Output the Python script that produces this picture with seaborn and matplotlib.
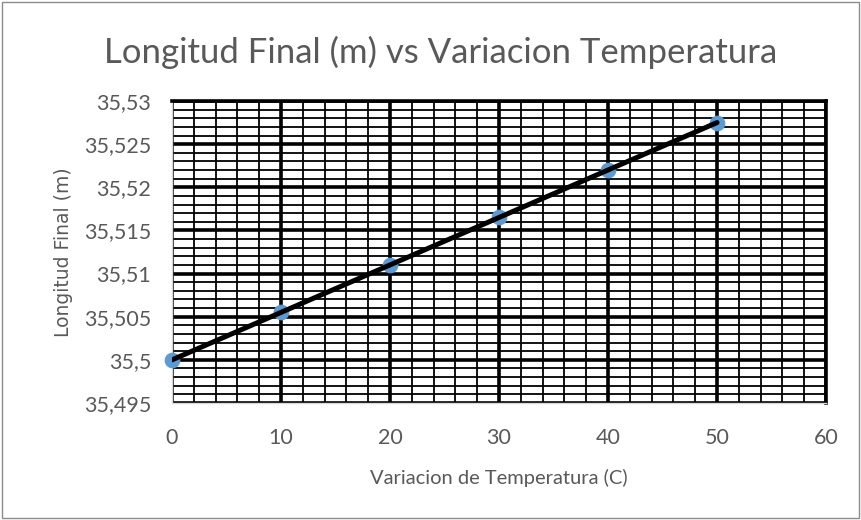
import seaborn as sns
import pandas as pd
import matplotlib.pyplot as plt
from matplotlib.ticker import MultipleLocator, FuncFormatter

# datos
temp = [0, 10, 20, 30, 40, 50]
longitud = [35.5, 35.5055, 35.511, 35.5165, 35.522, 35.5275]

df = pd.DataFrame({"temp": temp, "longitud": longitud})

sns.set_style("white")
plt.rcParams['font.family'] = ['Lato', 'DejaVu Sans']
gris = "#595959"

fig = plt.figure(figsize=(8.61, 5.2), dpi=100)
ax = fig.add_axes([0.1998, 0.225, 0.7596, 0.5808])

ax.set_xlim(0, 60)
ax.set_ylim(35.495, 35.53)
ax.xaxis.set_major_locator(MultipleLocator(10))
ax.xaxis.set_minor_locator(MultipleLocator(2))
ax.yaxis.set_major_locator(MultipleLocator(0.005))
ax.yaxis.set_minor_locator(MultipleLocator(0.001))
ax.grid(which="major", color="black", lw=2.6)
ax.grid(which="minor", color="black", lw=1.3)
ax.set_axisbelow(True)

sns.scatterplot(data=df, x="temp", y="longitud", ax=ax, s=110,
                color="#5B9BD5", edgecolor="#5B9BD5", zorder=3, clip_on=False)
sns.regplot(data=df, x="temp", y="longitud", ax=ax, scatter=False, ci=None,
            line_kws={"color": "black", "lw": 3.6, "zorder": 4})

fmt = lambda v, p: ("%g" % round(v, 4)).replace(".", ",")
ax.yaxis.set_major_formatter(FuncFormatter(fmt))
ax.tick_params(which="both", length=0, labelsize=15.5, labelcolor=gris)
ax.tick_params(axis="x", pad=18)
ax.tick_params(axis="y", pad=15)

for s in ["top", "right"]:
    ax.spines[s].set_color("black")
    ax.spines[s].set_linewidth(2.6)
for s in ["bottom", "left"]:
    ax.spines[s].set_color("#d9d9d9")
    ax.spines[s].set_linewidth(1)

ax.set_xlabel("Variacion de Temperatura (C)", fontsize=14.5, color=gris, labelpad=15)
ax.set_ylabel("Longitud Final (m)", fontsize=13.5, color=gris, labelpad=8,
              family="DejaVu Sans")
fig.text(0.512, 0.9, "Longitud Final (m) vs Variacion Temperatura",
         ha="center", va="center", fontsize=25, color=gris)

# borde del grafico
fig.patches.append(plt.Rectangle((0.002, 0.003), 0.996, 0.994, transform=fig.transFigure,
                                 fill=False, ec="#8c8c8c", lw=1))

plt.savefig("out.png", dpi=100)
